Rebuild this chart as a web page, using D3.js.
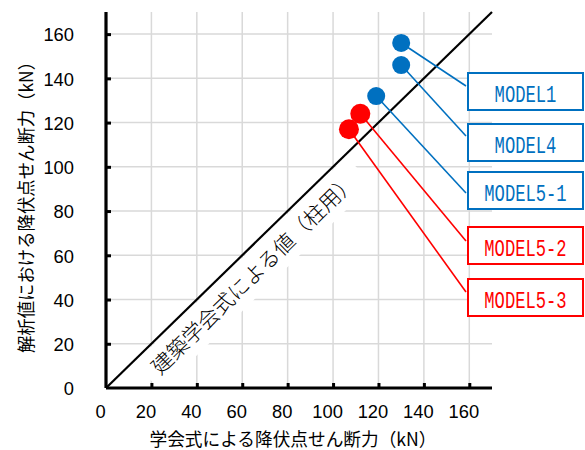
<!DOCTYPE html>
<html><head><meta charset="utf-8">
<script src="https://cdn.jsdelivr.net/npm/d3@7"></script>
<style>
html,body{margin:0;padding:0;background:#fff;}
svg{display:block;}
</style></head>
<body>
<svg id="chart" width="585" height="450"></svg>
<script>
// ---- data ----
const models = ["MODEL1", "MODEL4", "MODEL5-1", "MODEL5-2", "MODEL5-3"];
const formulaValues = [130, 130, 119, 112, 107];   // 学会式による降伏点せん断力 (kN)
const analysisValues = [156, 146, 132, 124, 117];  // 解析値における降伏点せん断力 (kN)
const modelGroup = ["A", "A", "A", "B", "B"];
const xTicks = [0, 20, 40, 60, 80, 100, 120, 140, 160];
const yTicks = [0, 20, 40, 60, 80, 100, 120, 140, 160];
const refLine = [0, 170];
const xTitle = "学会式による降伏点せん断力（kN）";
const yTitle = "解析値における降伏点せん断力（kN）";
const refLabel = "建築学会式による値（柱用）";

// ---- layout / style ----
const groupColor = { A: "#0070c0", B: "#ff0000" };
const groupRadius = { A: 9, B: 10 };
const boxTop = [73, 124, 172, 227, 279];
const leaderEndDy = [13, 12, 21, 14, 13];
const boxX = 468, boxW = 115, boxH = 37;

const svg = d3.select("#chart");
const x = d3.scaleLinear().domain([0, 170]).range([106, 492]);
const y = d3.scaleLinear().domain([0, 170]).range([388, 12]);

// grid
const grid = svg.append("g");
grid.selectAll("line.v").data(xTicks.filter(d => d > 0)).enter().append("line")
  .attr("x1", d => x(d)).attr("x2", d => x(d)).attr("y1", y(170)).attr("y2", y(0))
  .attr("stroke", "#d9d9d9").attr("stroke-width", 1.5);
grid.selectAll("line.h").data(yTicks.filter(d => d > 0)).enter().append("line")
  .attr("x1", x(0)).attr("x2", x(170)).attr("y1", d => y(d)).attr("y2", d => y(d))
  .attr("stroke", "#d9d9d9").attr("stroke-width", 1.5);

// reference label background + text
const ang = Math.atan2(y(170) - y(0), x(170) - x(0)) * 180 / Math.PI;
const along = 58.5;
const lbl = svg.append("g")
  .attr("transform", `translate(${x(along)},${y(along)}) rotate(${ang})`);
lbl.append("rect").attr("x", -148).attr("y", 2).attr("width", 296).attr("height", 38).attr("fill", "#fff");
lbl.append("text").attr("x", 0).attr("y", 20)
  .attr("text-anchor", "middle").attr("dominant-baseline", "central")
  .attr("font-family", "'Noto Sans CJK JP', sans-serif").attr("font-size", 21).attr("font-weight", 300)
  .attr("textLength", 276).attr("lengthAdjust", "spacingAndGlyphs")
  .attr("fill", "#000").text(refLabel);

// reference line
svg.append("line")
  .attr("x1", x(refLine[0])).attr("y1", y(refLine[0]))
  .attr("x2", x(refLine[1])).attr("y2", y(refLine[1]))
  .attr("stroke", "#000").attr("stroke-width", 2.2);

// axes
const xAxis = d3.axisBottom(x).tickValues(xTicks).tickSize(-5).tickFormat(d3.format("d"));
const yAxis = d3.axisLeft(y).tickValues(yTicks).tickSize(-5).tickFormat(d3.format("d"));
const gx = svg.append("g").attr("transform", `translate(0,${y(0)})`).call(xAxis);
const gy = svg.append("g").attr("transform", `translate(${x(0)},0)`).call(yAxis);
[gx, gy].forEach(g => {
  g.select(".domain").attr("stroke", "#000").attr("stroke-width", 3.2);
  g.selectAll(".tick line").attr("stroke", "#000").attr("stroke-width", 3);
  g.selectAll(".tick text").attr("font-family", "'Liberation Sans', Arial, sans-serif")
    .attr("font-size", 19).attr("fill", "#000")
    .attr("textLength", d => String(d).length * 10.2).attr("lengthAdjust", "spacingAndGlyphs");
});
gx.select(".domain").attr("d", `M${x(0)},0H${x(170)}`);
gy.select(".domain").attr("d", `M0,${y(170)}V${y(0)}`);
gx.selectAll(".tick text").attr("dy", null).attr("y", 30).attr("x", -6);
gy.selectAll(".tick text").attr("x", -32).attr("dy", "0.36em");
gx.selectAll(".tick").filter(d => d === 0).select("line").remove();
gy.selectAll(".tick").filter(d => d === 0).select("line").remove();

// axis titles
svg.append("text").attr("x", 293).attr("y", 446).attr("text-anchor", "middle")
  .attr("font-family", "'Noto Sans CJK JP', sans-serif").attr("font-size", 18)
  .attr("textLength", 287).attr("lengthAdjust", "spacingAndGlyphs").text(xTitle);
svg.append("text").attr("transform", "translate(33,203) rotate(-90)").attr("text-anchor", "middle")
  .attr("font-family", "'Noto Sans CJK JP', sans-serif").attr("font-size", 18)
  .attr("textLength", 300).attr("lengthAdjust", "spacingAndGlyphs").text(yTitle);

// leaders
const idx = d3.range(models.length);
svg.selectAll("line.leader").data(idx).enter().append("line")
  .attr("x1", i => x(formulaValues[i])).attr("y1", i => y(analysisValues[i]))
  .attr("x2", boxX - 2).attr("y2", i => boxTop[i] + leaderEndDy[i])
  .attr("stroke", i => groupColor[modelGroup[i]]).attr("stroke-width", 1.6);

// points
svg.selectAll("circle.pt").data(idx).enter().append("circle")
  .attr("cx", i => x(formulaValues[i])).attr("cy", i => y(analysisValues[i]))
  .attr("r", i => groupRadius[modelGroup[i]])
  .attr("fill", i => groupColor[modelGroup[i]]);

// label boxes
const boxes = svg.selectAll("g.box").data(idx).enter().append("g")
  .attr("transform", i => `translate(${boxX},${boxTop[i]})`);
boxes.append("rect").attr("x", 0).attr("y", 0).attr("width", boxW).attr("height", boxH)
  .attr("fill", "#fff").attr("stroke", i => groupColor[modelGroup[i]]).attr("stroke-width", 2);
boxes.append("text")
  .attr("transform", `translate(${boxW / 2},29) scale(0.746,1)`)
  .attr("text-anchor", "middle")
  .attr("font-family", "'Liberation Mono', 'DejaVu Sans Mono', monospace").attr("font-size", 23)
  .attr("fill", i => groupColor[modelGroup[i]]).text(i => models[i]);
</script>
</body></html>
